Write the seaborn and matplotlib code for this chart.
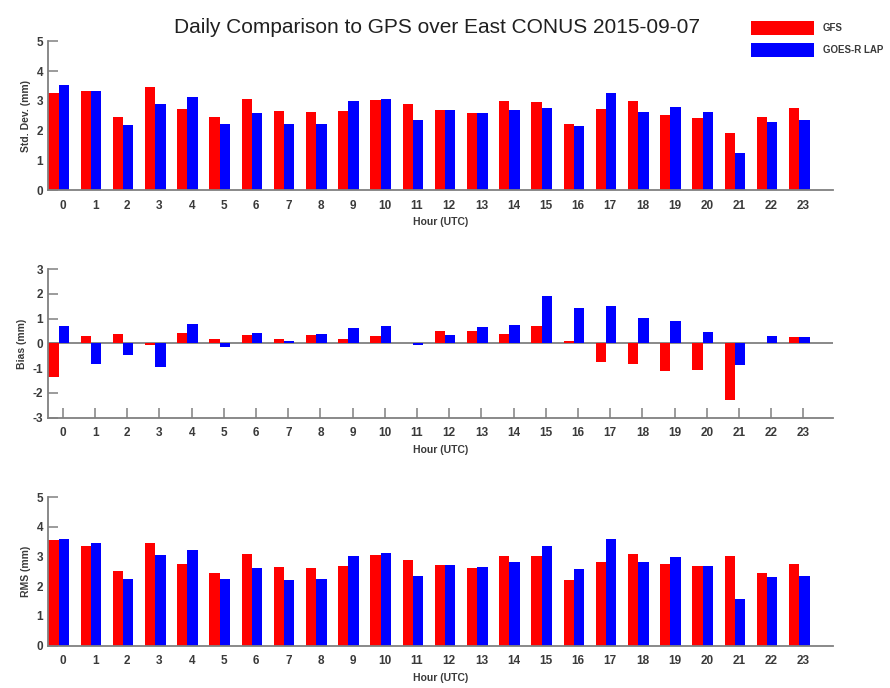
import numpy as np
import pandas as pd
import matplotlib
matplotlib.use("Agg")
import matplotlib.pyplot as plt
import seaborn as sns
from matplotlib.patches import Patch

# values
hours = list(range(24))
models = ["GFS", "GOES-R LAP"]

std_gfs = [3.28, 3.34, 2.47, 3.45, 2.72, 2.45, 3.07, 2.67, 2.62, 2.67, 3.04, 2.88,
           2.70, 2.58, 3.01, 2.96, 2.21, 2.73, 2.99, 2.51, 2.42, 1.93, 2.45, 2.76]
std_lap = [3.53, 3.34, 2.18, 2.88, 3.13, 2.21, 2.60, 2.21, 2.21, 2.99, 3.07, 2.34,
           2.70, 2.58, 2.70, 2.75, 2.16, 3.27, 2.64, 2.81, 2.64, 1.24, 2.30, 2.34]

bias_gfs = [-1.37, 0.28, 0.36, -0.08, 0.42, 0.19, 0.35, 0.16, 0.32, 0.19, 0.28, 0.0,
            0.48, 0.52, 0.39, 0.70, 0.08, -0.77, -0.83, -1.10, -1.06, -2.30, 0.0, 0.26]
bias_lap = [0.70, -0.85, -0.47, -0.97, 0.79, -0.15, 0.42, 0.11, 0.39, 0.62, 0.69, -0.08,
            0.35, 0.66, 0.73, 1.92, 1.44, 1.52, 1.04, 0.90, 0.46, -0.89, 0.30, 0.26]

rms_gfs = [3.56, 3.34, 2.52, 3.45, 2.74, 2.43, 3.08, 2.65, 2.63, 2.69, 3.04, 2.89,
           2.73, 2.63, 3.02, 3.02, 2.20, 2.83, 3.10, 2.76, 2.69, 3.02, 2.43, 2.76]
rms_lap = [3.60, 3.46, 2.26, 3.04, 3.22, 2.24, 2.60, 2.20, 2.24, 3.02, 3.13, 2.35,
           2.73, 2.65, 2.80, 3.34, 2.57, 3.60, 2.83, 2.97, 2.69, 1.57, 2.31, 2.35]

panels = [
    ("Std. Dev. (mm)", std_gfs, std_lap, (0, 5), range(0, 6)),
    ("Bias (mm)", bias_gfs, bias_lap, (-3, 3), range(-3, 4)),
    ("RMS (mm)", rms_gfs, rms_lap, (0, 5), range(0, 6)),
]
colors = {"GFS": "#ff0000", "GOES-R LAP": "#0000ff"}
text_col = "#3a3a3a"
spine_col = "#808080"


def long_frame(gfs, lap):
    return pd.DataFrame({
        "hour": hours * 2,
        "model": ["GFS"] * 24 + ["GOES-R LAP"] * 24,
        "value": gfs + lap,
    })


plt.rcParams["font.family"] = ["Liberation Sans", "DejaVu Sans"]
plt.rcParams["axes.unicode_minus"] = False
fig = plt.figure(figsize=(8.9, 6.88), dpi=100)

bottoms = [0.7238, 0.3929, 0.0615]
for (ylabel, gfs, lap, ylim, yt), bottom in zip(panels, bottoms):
    ax = fig.add_axes([0.054, bottom, 0.882, 0.216])
    df = long_frame(gfs, lap)
    sns.barplot(data=df, x="hour", y="value", hue="model", hue_order=models,
                palette=colors, saturation=1, width=0.64, linewidth=0,
                legend=False, ax=ax)
    ax.set_axisbelow(True)
    ax.set_xlim(-0.33, 24.05)
    ax.set_ylim(*ylim)
    ax.set_xticks(np.arange(24) + 0.13)
    ax.set_xticklabels([str(h) for h in hours])
    ax.set_yticks(list(yt))
    if ylim[0] < 0:
        ax.axhline(0, color=spine_col, lw=1.3, zorder=0.8)
    for s in ["top", "right"]:
        ax.spines[s].set_visible(False)
    for s in ["left", "bottom"]:
        ax.spines[s].set_color(spine_col)
        ax.spines[s].set_linewidth(1.3)
    ax.tick_params(axis="both", direction="in", length=7, width=1.1,
                   color=spine_col, labelcolor=text_col, labelsize=8.5)
    ax.tick_params(axis="x", pad=7)
    for lab in ax.get_xticklabels() + ax.get_yticklabels():
        lab.set_fontweight("bold")
    ax.set_xlabel("Hour (UTC)", fontsize=7.5, fontweight="bold", color=text_col, labelpad=4)
    ax.set_ylabel(ylabel, fontsize=7.5, fontweight="bold", color=text_col, labelpad=4)

fig.text(0.491, 0.952, "Daily Comparison to GPS over East CONUS 2015-09-07",
         ha="center", va="baseline", fontsize=15, color="#202020")

handles = [Patch(facecolor=colors[m], edgecolor="none", label=m) for m in models]
leg = fig.legend(handles=handles, loc="upper left", bbox_to_anchor=(0.8395, 0.975),
                 frameon=False, fontsize=7, handlelength=6.5, handleheight=1.85,
                 labelspacing=0.8, handletextpad=0.9, borderaxespad=0)
for t in leg.get_texts():
    t.set_fontweight("bold")
    t.set_color(text_col)

fig.savefig("out.png", dpi=100)
